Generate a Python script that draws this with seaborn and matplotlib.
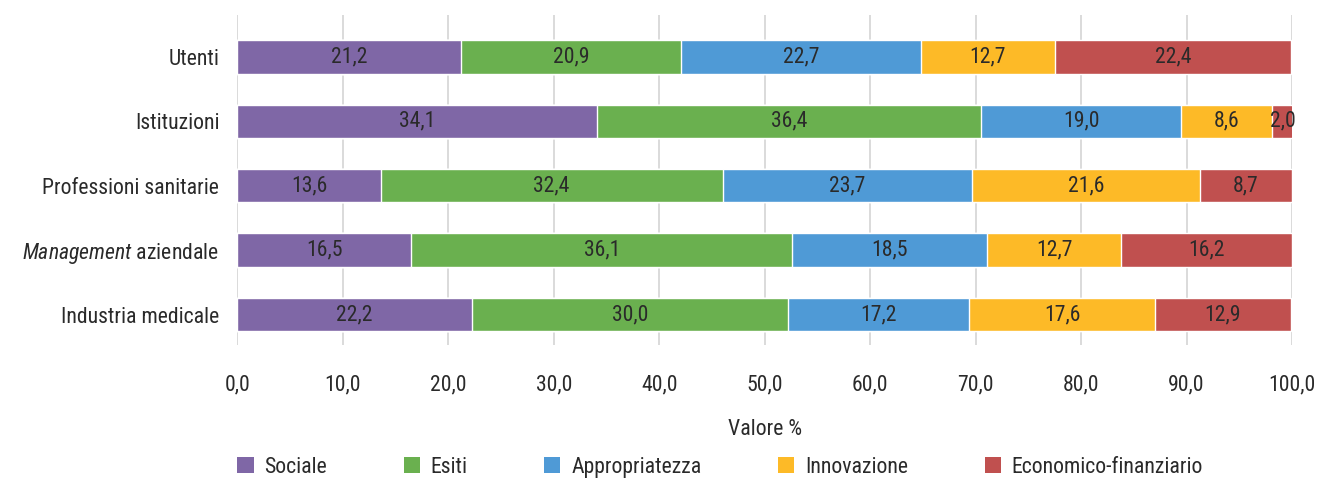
import numpy as np
import pandas as pd
import seaborn as sns
import matplotlib.pyplot as plt
from matplotlib import font_manager
from matplotlib.patches import Patch

categories = ['Utenti', 'Istituzioni', 'Professioni sanitarie',
              'Management aziendale', 'Industria medicale']
series = ['Sociale', 'Esiti', 'Appropriatezza', 'Innovazione', 'Economico-finanziario']
sociale = [21.2, 34.1, 13.6, 16.5, 22.2]
esiti = [20.9, 36.4, 32.4, 36.1, 30.0]
appropriatezza = [22.7, 19.0, 23.7, 18.5, 17.2]
innovazione = [12.7, 8.6, 21.6, 12.7, 17.6]
economico = [22.4, 2.0, 8.7, 16.2, 12.9]
colors = ['#7f67a6', '#6ab04f', '#4f9ad6', '#fdba27', '#c0504f']

# pick a narrow font if one is installed
installed = {f.name for f in font_manager.fontManager.ttflist}
font = 'Liberation Sans'
for cand in ['Liberation Sans Narrow', 'DejaVu Sans Condensed', 'Roboto Condensed']:
    if cand in installed:
        font = cand
        break

sns.set_theme(style='white')
plt.rcParams['font.family'] = [font, 'DejaVu Sans']
plt.rcParams['mathtext.fontset'] = 'custom'
plt.rcParams['mathtext.it'] = font + ':italic'
plt.rcParams['mathtext.rm'] = font

vals = np.array([sociale, esiti, appropriatezza, innovazione, economico])
cum = vals.cumsum(axis=0)
fs = 15.7 if 'Narrow' in font or 'Condensed' in font else 14
txt = '#2a2a2a'

fig = plt.figure(figsize=(13.19, 4.83), dpi=100)
ax = fig.add_axes([0.18, 0.286, 0.7995, 0.683])

# draw cumulative totals from the last series backwards so they stack
for i in range(len(series) - 1, -1, -1):
    df = pd.DataFrame({'cat': categories, 'val': cum[i]})
    sns.barplot(data=df, x='val', y='cat', color=colors[i], width=0.52,
                saturation=1, ax=ax, zorder=2)

for i in range(len(series)):
    for j in range(len(categories)):
        x = cum[i, j] - vals[i, j] / 2
        if series[i] == 'Economico-finanziario' and vals[i, j] < 5:
            x = cum[i, j] - 1.0
        ax.text(x, j, f'{vals[i, j]:.1f}'.replace('.', ','), ha='center',
                va='center', fontsize=fs, color=txt, zorder=3)

ax.set_xlim(0, 100)
ax.set_ylim(4.47, -0.65)
ax.set_xticks(np.arange(0, 101, 10))
ax.set_xticklabels([f'{t:.1f}'.replace('.', ',') for t in np.arange(0, 101, 10)],
                   fontsize=fs, color=txt)
ylabels = [r'$\mathit{Management}$ aziendale' if c.startswith('Management') else c
           for c in categories]
ax.set_yticks(range(len(categories)))
ax.set_yticklabels(ylabels)
ax.tick_params(axis='x', length=0, pad=21)
ax.tick_params(axis='y', length=0, pad=13, labelsize=fs, labelcolor=txt)
ax.grid(axis='x', color='#d4d4d4', linewidth=1.2, zorder=0)
ax.set_axisbelow(True)
for s in ax.spines.values():
    s.set_visible(False)
ax.set_ylabel('')
ax.set_xlabel('Valore %', fontsize=fs, color=txt, labelpad=17)

handles = [Patch(facecolor=c, edgecolor='none') for c in colors]
fig.legend(handles, series, loc='center', bbox_to_anchor=(0.546, 0.033), ncol=5,
           frameon=False, fontsize=fs, handlelength=0.75, handleheight=0.75,
           handletextpad=0.5, columnspacing=3.5, labelcolor=txt)

fig.savefig('out.png', dpi=100)
